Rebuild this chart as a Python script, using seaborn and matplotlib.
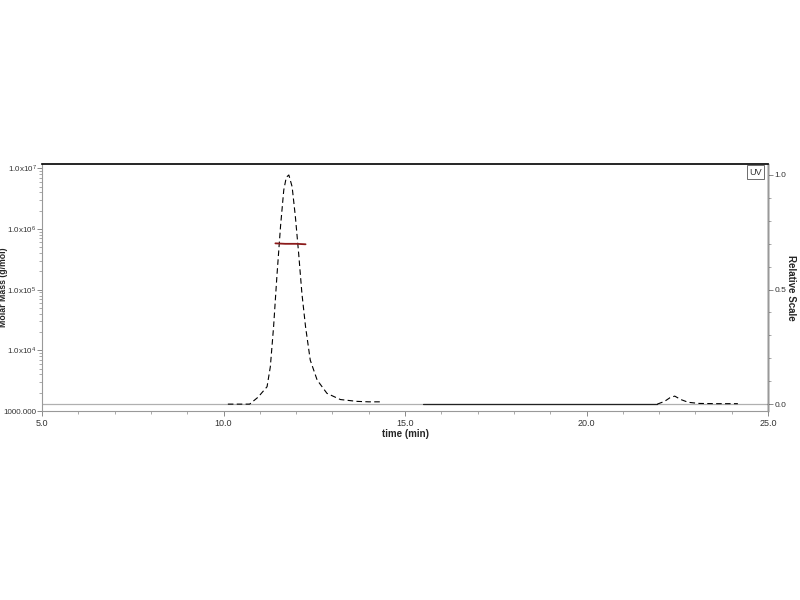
import numpy as np
import pandas as pd
import matplotlib
matplotlib.use("Agg")
import matplotlib.pyplot as plt
import seaborn as sns
from matplotlib.ticker import MultipleLocator, FixedLocator, LogLocator, NullFormatter

# UV trace (relative scale)
time_peak = [10.12, 10.45, 10.72, 10.95, 11.20, 11.29, 11.38, 11.47, 11.57, 11.66, 11.73,
             11.80, 11.89, 11.98, 12.07, 12.16, 12.26, 12.39, 12.58, 12.85, 13.22,
             13.68, 14.00, 14.35]
uv_peak = [0.0, 0.0, 0.0, 0.03, 0.076, 0.163, 0.338, 0.556, 0.774, 0.934, 0.99,
           1.0, 0.949, 0.818, 0.658, 0.483, 0.338, 0.192, 0.105, 0.047, 0.02,
           0.012, 0.01, 0.01]

time_flat = [15.50, 17.00, 19.00, 21.00, 21.95]
uv_flat = [0.0, 0.0, 0.0, 0.0, 0.0]

time_bump = [21.95, 22.15, 22.30, 22.43, 22.60, 22.80, 23.10, 23.60, 24.17]
uv_bump = [0.0, 0.012, 0.028, 0.035, 0.02, 0.008, 0.003, 0.002, 0.002]

# molar mass across the peak
time_mm = [11.43, 11.70, 12.00, 12.26]
molar_mass = [5.8e5, 5.7e5, 5.7e5, 5.6e5]

left_ticks = [1e3, 1e4, 1e5, 1e6, 1e7]
left_labels = ["1000.000", "1.0x10$^{4}$", "1.0x10$^{5}$", "1.0x10$^{6}$", "1.0x10$^{7}$"]

sns.set_style("white")
plt.rcParams["font.family"] = ["Liberation Sans", "DejaVu Sans"]
plt.rcParams["mathtext.default"] = "regular"

fig = plt.figure(figsize=(8, 6), dpi=100)
ax = fig.add_axes([0.0525, 0.315, 0.9075, 0.4117])
ax2 = ax.twinx()

# molar mass on the left log axis
ax.set_yscale("log")
ax.set_ylim(1000, 1.18e7)
ax.set_xlim(5.0, 25.0)
sns.lineplot(x=time_mm, y=molar_mass, ax=ax, color="#8b1a1a", linewidth=1.3)

# UV on the right axis
ax2.set_ylim(-0.03, 1.048)
ax2.axhline(0.0, color="#b0b0b0", linewidth=0.9, zorder=1)
sns.lineplot(x=time_peak, y=uv_peak, ax=ax2, color="black", linewidth=0.8,
             linestyle=(0, (5, 3)), sort=False)
sns.lineplot(x=time_flat, y=uv_flat, ax=ax2, color="#222222", linewidth=0.9, sort=False)
sns.lineplot(x=time_bump, y=uv_bump, ax=ax2, color="black", linewidth=0.8,
             linestyle=(0, (5, 3)), sort=False)
ax.set_zorder(ax2.get_zorder() + 1)
ax.patch.set_visible(False)

# ticks
ax.xaxis.set_major_locator(MultipleLocator(5))
ax.xaxis.set_minor_locator(MultipleLocator(1))
ax.set_xticklabels([f"{v:.1f}" for v in ax.get_xticks()])
ax.yaxis.set_major_locator(FixedLocator(left_ticks))
ax.set_yticklabels(left_labels)
ax.yaxis.set_minor_locator(LogLocator(base=10, subs=np.arange(2, 10)))
ax.yaxis.set_minor_formatter(NullFormatter())
ax2.yaxis.set_major_locator(FixedLocator([0.0, 0.5, 1.0]))
ax2.set_yticklabels(["0.0", "0.5", "1.0"])
ax2.yaxis.set_minor_locator(MultipleLocator(0.1))

for a in (ax, ax2):
    a.tick_params(which="major", direction="out", length=3.5, width=0.6,
                  colors="#777777", labelcolor="#333333", labelsize=6.0, pad=1)
    a.tick_params(which="minor", direction="out", length=2, width=0.5, colors="#888888")
ax.tick_params(axis="x", which="major", labelsize=6.5, pad=2)
ax.tick_params(axis="y", which="major", labelsize=5.8, pad=0.5)
ax.tick_params(axis="x", which="both", bottom=True)
ax.tick_params(axis="y", which="both", left=True)
ax2.tick_params(axis="y", which="both", right=True)

for name, sp in ax.spines.items():
    sp.set_linewidth(0.8)
    sp.set_color("#999999")
ax.spines["top"].set_color("black")
ax.spines["top"].set_linewidth(1.2)
ax2.spines["right"].set_color("black")
ax2.spines["right"].set_linewidth(1.0)
ax2.spines["top"].set_visible(False)
ax2.spines["left"].set_visible(False)
ax2.spines["bottom"].set_visible(False)

ax.set_xlabel("time (min)", fontsize=7, fontweight="bold", labelpad=1)
ax.set_ylabel("Molar Mass (g/mol)", fontsize=6.3, fontweight="bold", va="center")
ax.yaxis.set_label_coords(-0.0525, 0.5)
ax2.set_ylabel("Relative Scale", fontsize=7, fontweight="bold", rotation=270, labelpad=7)

ax.text(0.992, 0.985, "UV", transform=ax.transAxes, ha="right", va="top", fontsize=6.5,
        color="#333333", bbox=dict(boxstyle="square,pad=0.25", fc="white", ec="#555555", lw=0.6))

fig.savefig("out.png", dpi=100)
